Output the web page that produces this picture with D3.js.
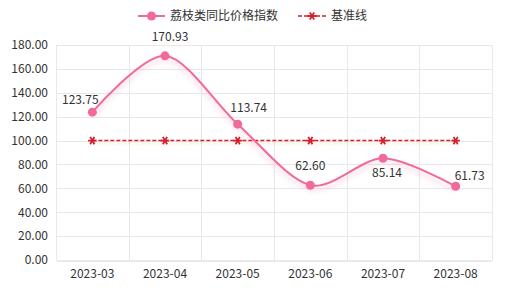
<!DOCTYPE html>
<html>
<head>
<meta charset="utf-8">
<script src="https://cdn.jsdelivr.net/npm/d3@7"></script>
<style>
  body { margin: 0; background: #fff; }
  text { font-family: "Noto Sans CJK SC", "Noto Sans", sans-serif; }
</style>
</head>
<body>
<div id="chart"></div>
<script>
var months = ['2023-03', '2023-04', '2023-05', '2023-06', '2023-07', '2023-08']
var priceIndex = [123.75, 170.93, 113.74, 62.60, 85.14, 61.73]
var baseline = [100, 100, 100, 100, 100, 100]
var yTicks = [0, 20, 40, 60, 80, 100, 120, 140, 160, 180]
var seriesNames = ['荔枝类同比价格指数', '基准线']

// label offsets (dx, dy) relative to each point
var labelOffsets = [[-12, -8], [5, -15], [11, -12], [0, -15], [4, 19], [14, -6]]

var width = 507
var height = 297
var margin = { top: 45, right: 15, bottom: 37, left: 56 }
var pink = '#f06a9a'
var red = '#d41f2c'

var svg = d3.select('#chart')
  .append('svg')
  .attr('width', width)
  .attr('height', height)

var defs = svg.append('defs')
var glow = defs.append('filter').attr('id', 'glow')
  .attr('filterUnits', 'userSpaceOnUse')
  .attr('x', 0).attr('y', 0).attr('width', width).attr('height', height)
glow.append('feDropShadow')
  .attr('dx', 0).attr('dy', 4).attr('stdDeviation', 2.5)
  .attr('flood-color', pink).attr('flood-opacity', 0.35)
var glow2 = defs.append('filter').attr('id', 'glow2')
  .attr('filterUnits', 'userSpaceOnUse')
  .attr('x', 0).attr('y', 0).attr('width', width).attr('height', height)
glow2.append('feDropShadow')
  .attr('dx', 0).attr('dy', 3).attr('stdDeviation', 1.5)
  .attr('flood-color', '#c8a040').attr('flood-opacity', 0.3)

var xScale = d3.scaleBand()
  .domain(months)
  .range([margin.left, width - margin.right])

var yScale = d3.scaleLinear()
  .domain([0, 180])
  .range([height - margin.bottom, margin.top])

function cx(d, i) { return xScale(months[i]) + xScale.bandwidth() / 2 }

// horizontal grid
svg.append('g')
  .selectAll('line')
  .data(yTicks.slice(1))
  .enter()
  .append('line')
  .attr('x1', margin.left)
  .attr('x2', width - margin.right)
  .attr('y1', function(d) { return Math.round(yScale(d)) + 0.5 })
  .attr('y2', function(d) { return Math.round(yScale(d)) + 0.5 })
  .attr('stroke', '#e8e8e8')

// vertical grid on band edges
var edges = months.map(function(m) { return xScale(m) }).concat([width - margin.right])
svg.append('g')
  .selectAll('line')
  .data(edges)
  .enter()
  .append('line')
  .attr('x1', function(d) { return Math.round(d) + 0.5 })
  .attr('x2', function(d) { return Math.round(d) + 0.5 })
  .attr('y1', margin.top)
  .attr('y2', height - margin.bottom)
  .attr('stroke', '#e8e8e8')

// y axis labels
var yAxis = d3.axisLeft(yScale)
  .tickValues(yTicks)
  .tickSize(0)
  .tickPadding(8)
  .tickFormat(function(d) { return d3.format('.2f')(d) })

svg.append('g')
  .attr('transform', 'translate(' + margin.left + ',0)')
  .call(yAxis)
  .call(function(g) { g.select('.domain').remove() })
  .selectAll('text')
  .attr('font-size', 12)
  .attr('fill', '#333')
  .style('font-family', '"Noto Sans CJK SC", sans-serif')

// x axis
var xAxis = d3.axisBottom(xScale).tickSize(0).tickPadding(9)
svg.append('g')
  .attr('transform', 'translate(0,' + (height - margin.bottom + 0.5) + ')')
  .call(xAxis)
  .call(function(g) {
    g.select('.domain').attr('stroke', '#d4d4d4')
  })
  .selectAll('text')
  .attr('font-size', 12)
  .attr('fill', '#333')
  .style('font-family', '"Noto Sans CJK SC", sans-serif')

// baseline series
var baseLine = d3.line()
  .x(function(d, i) { return cx(d, i) })
  .y(function(d) { return yScale(d) })

svg.append('path')
  .datum(baseline)
  .attr('d', baseLine)
  .attr('fill', 'none')
  .attr('stroke', red)
  .attr('stroke-width', 1.6)
  .attr('stroke-dasharray', '4,2')
  .attr('filter', 'url(#glow2)')

var star = d3.symbol().type(d3.symbolAsterisk).size(50)
svg.append('g')
  .selectAll('path')
  .data(baseline)
  .enter()
  .append('path')
  .attr('d', star)
  .attr('transform', function(d, i) { return 'translate(' + cx(d, i) + ',' + yScale(d) + ') rotate(30)' })
  .attr('fill', 'none')
  .attr('stroke', red)
  .attr('stroke-width', 1.8)

// price index series
var smoothLine = d3.line()
  .x(function(d, i) { return cx(d, i) })
  .y(function(d) { return yScale(d) })
  .curve(d3.curveCardinal.tension(0.1))

svg.append('path')
  .datum(priceIndex)
  .attr('d', smoothLine)
  .attr('fill', 'none')
  .attr('stroke', pink)
  .attr('stroke-width', 2)
  .attr('filter', 'url(#glow)')

svg.append('g')
  .selectAll('circle')
  .data(priceIndex)
  .enter()
  .append('circle')
  .attr('cx', function(d, i) { return cx(d, i) })
  .attr('cy', function(d) { return yScale(d) })
  .attr('r', 4.5)
  .attr('fill', pink)

svg.append('g')
  .selectAll('text')
  .data(priceIndex)
  .enter()
  .append('text')
  .text(function(d) { return d3.format('.2f')(d) })
  .attr('x', function(d, i) { return cx(d, i) + labelOffsets[i][0] })
  .attr('y', function(d, i) { return yScale(d) + labelOffsets[i][1] })
  .attr('text-anchor', 'middle')
  .attr('font-size', 12)
  .attr('fill', '#333')

// legend
var legend = svg.append('g').attr('transform', 'translate(0,16)')
legend.append('line')
  .attr('x1', 138).attr('x2', 165)
  .attr('stroke', pink).attr('stroke-width', 2)
legend.append('circle')
  .attr('cx', 151.5).attr('r', 4.5).attr('fill', pink)
legend.append('text')
  .attr('x', 170).attr('y', 4)
  .attr('font-size', 12).attr('fill', '#333')
  .text(seriesNames[0])

legend.append('line')
  .attr('x1', 298).attr('x2', 326)
  .attr('stroke', red).attr('stroke-width', 1.6)
  .attr('stroke-dasharray', '4,2')
legend.append('path')
  .attr('d', star)
  .attr('transform', 'translate(312,0) rotate(30)')
  .attr('fill', 'none').attr('stroke', red).attr('stroke-width', 1.8)
legend.append('text')
  .attr('x', 331).attr('y', 4)
  .attr('font-size', 12).attr('fill', '#333')
  .text(seriesNames[1])
</script>
</body>
</html>
